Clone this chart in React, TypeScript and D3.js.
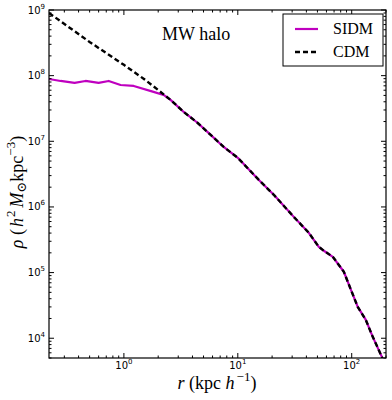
import React from 'react';
import * as d3 from 'd3';

const sidmR = [0.22, 0.278, 0.369, 0.46, 0.6, 0.735, 0.935, 1.22, 1.82, 2.23, 2.57, 3.35, 4.45, 5.78, 7.52, 10, 15.3, 20.7, 31, 42, 51.4, 56.9, 68.2, 85.3, 98.3, 113, 133, 153, 184, 200];
const sidmRho = [8.9e7, 8.3e7, 7.75e7, 8.3e7, 7.75e7, 8.3e7, 7.2e7, 6.97e7, 5.65e7, 5.08e7, 4.27e7, 2.8e7, 1.9e7, 1.25e7, 8.2e6, 5.6e6, 2.58e6, 1.53e6, 7.06e5, 4.04e5, 2.47e5, 2.15e5, 1.74e5, 1.03e5, 5.5e4, 3.0e4, 1.9e4, 1.05e4, 5.2e3, 3.5e3];
const cdmR = [0.22, 0.5, 1.0, 1.5, 2.0, 2.57, 3.35, 4.45, 5.78, 7.52, 10, 15.3, 20.7, 31, 42, 51.4, 56.9, 68.2, 85.3, 98.3, 113, 133, 153, 184, 200];
const cdmRho = [9e8, 3.26e8, 1.46e8, 8.9e7, 6.05e7, 4.27e7, 2.8e7, 1.9e7, 1.25e7, 8.2e6, 5.6e6, 2.58e6, 1.53e6, 7.06e5, 4.04e5, 2.47e5, 2.15e5, 1.74e5, 1.03e5, 5.5e4, 3.0e4, 1.9e4, 1.05e4, 5.2e3, 3.5e3];
const xTickExps = [0, 1, 2];
const yTickExps = [4, 5, 6, 7, 8, 9];
const legendLabels = ['SIDM', 'CDM'];
const title = 'MW halo';

export default function App() {
  const W = 392, H = 400;
  const L = 49, R = 386, T = 10, B = 358;
  const x = d3.scaleLog().domain([0.22, 200]).range([L, R]);
  const y = d3.scaleLog().domain([5000, 1e9]).range([B, T]);
  const magenta = '#bf00bf';

  const line = d3.line<[number, number]>().x(d => x(d[0])).y(d => y(d[1]));
  const sidm = line(sidmR.map((r, i) => [r, sidmRho[i]] as [number, number]))!;
  const cdm = line(cdmR.map((r, i) => [r, cdmRho[i]] as [number, number]))!;

  const xMinor: number[] = [];
  for (let e = -1; e <= 2; e++) for (let k = 2; k <= 9; k++) {
    const v = k * Math.pow(10, e);
    if (v >= 0.22 && v <= 200) xMinor.push(v);
  }
  const yMinor: number[] = [];
  for (let e = 3; e <= 8; e++) for (let k = 2; k <= 9; k++) {
    const v = k * Math.pow(10, e);
    if (v >= 5000 && v <= 1e9) yMinor.push(v);
  }
  const maj = 5, mn = 2.5;
  const tickColor = '#000';
  const serif = '"Liberation Serif", "DejaVu Serif", serif';
  const sans = '"DejaVu Sans", sans-serif';

  return (
    <svg width={W} height={H} style={{ position: 'absolute', left: 0, top: 0, background: '#fff' }}>
      <defs>
        <clipPath id="plotclip"><rect x={L} y={T} width={R - L} height={B - T} /></clipPath>
      </defs>
      <rect x={0} y={0} width={W} height={H} fill="#fff" />
      <g clipPath="url(#plotclip)">
        <path d={sidm} fill="none" stroke={magenta} strokeWidth={2.2} strokeLinejoin="round" />
        <path d={cdm} fill="none" stroke="#000" strokeWidth={2.4} strokeDasharray="5,3" />
      </g>
      <g stroke={tickColor} strokeWidth={1}>
        {xTickExps.map(e => {
          const px = x(Math.pow(10, e));
          return <g key={'xm' + e}>
            <line x1={px} x2={px} y1={B} y2={B - maj} />
            <line x1={px} x2={px} y1={T} y2={T + maj} />
          </g>;
        })}
        {xMinor.map((v, i) => {
          const px = x(v);
          return <g key={'xn' + i}>
            <line x1={px} x2={px} y1={B} y2={B - mn} />
            <line x1={px} x2={px} y1={T} y2={T + mn} />
          </g>;
        })}
        {yTickExps.map(e => {
          const py = y(Math.pow(10, e));
          return <g key={'ym' + e}>
            <line x1={L} x2={L + maj} y1={py} y2={py} />
            <line x1={R} x2={R - maj} y1={py} y2={py} />
          </g>;
        })}
        {yMinor.map((v, i) => {
          const py = y(v);
          return <g key={'yn' + i}>
            <line x1={L} x2={L + mn} y1={py} y2={py} />
            <line x1={R} x2={R - mn} y1={py} y2={py} />
          </g>;
        })}
      </g>
      <rect x={L} y={T} width={R - L} height={B - T} fill="none" stroke="#000" strokeWidth={1.2} />
      <g fontFamily={sans} fontSize={10} fill="#000">
        {xTickExps.map(e => (
          <text key={'xl' + e} x={x(Math.pow(10, e))} y={369} textAnchor="middle">
            10<tspan fontSize={7} dy={-5}>{e}</tspan>
          </text>
        ))}
        {yTickExps.map(e => (
          <text key={'yl' + e} x={45} y={y(Math.pow(10, e)) + 3.5} textAnchor="end">
            10<tspan fontSize={7} dy={-5}>{e}</tspan>
          </text>
        ))}
      </g>
      <text x={217} y={389} textAnchor="middle" fontFamily={serif} fontSize={18}>
        <tspan fontStyle="italic">r</tspan> (kpc <tspan fontStyle="italic">h</tspan><tspan fontSize={13} dy={-8} dx={2}>−1</tspan><tspan dy={8}>)</tspan>
      </text>
      <text transform={`translate(23,192) rotate(-90)`} textAnchor="middle" fontFamily={serif} fontSize={18}>
        <tspan fontStyle="italic">ρ</tspan> (<tspan dx={2} fontStyle="italic">h</tspan><tspan fontSize={13} dy={-8} dx={1}>2</tspan><tspan dy={8} dx={3} fontStyle="italic">M</tspan><tspan fontSize={13} dy={3}>⊙</tspan><tspan dy={-3}>kpc</tspan><tspan fontSize={13} dy={-8}>−3</tspan><tspan dy={8}>)</tspan>
      </text>
      <text x={162} y={40} fontFamily={serif} fontSize={18}>{title}</text>
      <rect x={283} y={14} width={100} height={52} fill="#fff" stroke="#000" strokeWidth={1} />
      <line x1={295} x2={318} y1={29} y2={29} stroke={magenta} strokeWidth={2.2} />
      <line x1={295} x2={318} y1={52} y2={52} stroke="#000" strokeWidth={2.4} strokeDasharray="5,3" />
      <text x={333} y={34} fontFamily={serif} fontSize={16}>{legendLabels[0]}</text>
      <text x={333} y={57} fontFamily={serif} fontSize={16}>{legendLabels[1]}</text>
    </svg>
  );
}
